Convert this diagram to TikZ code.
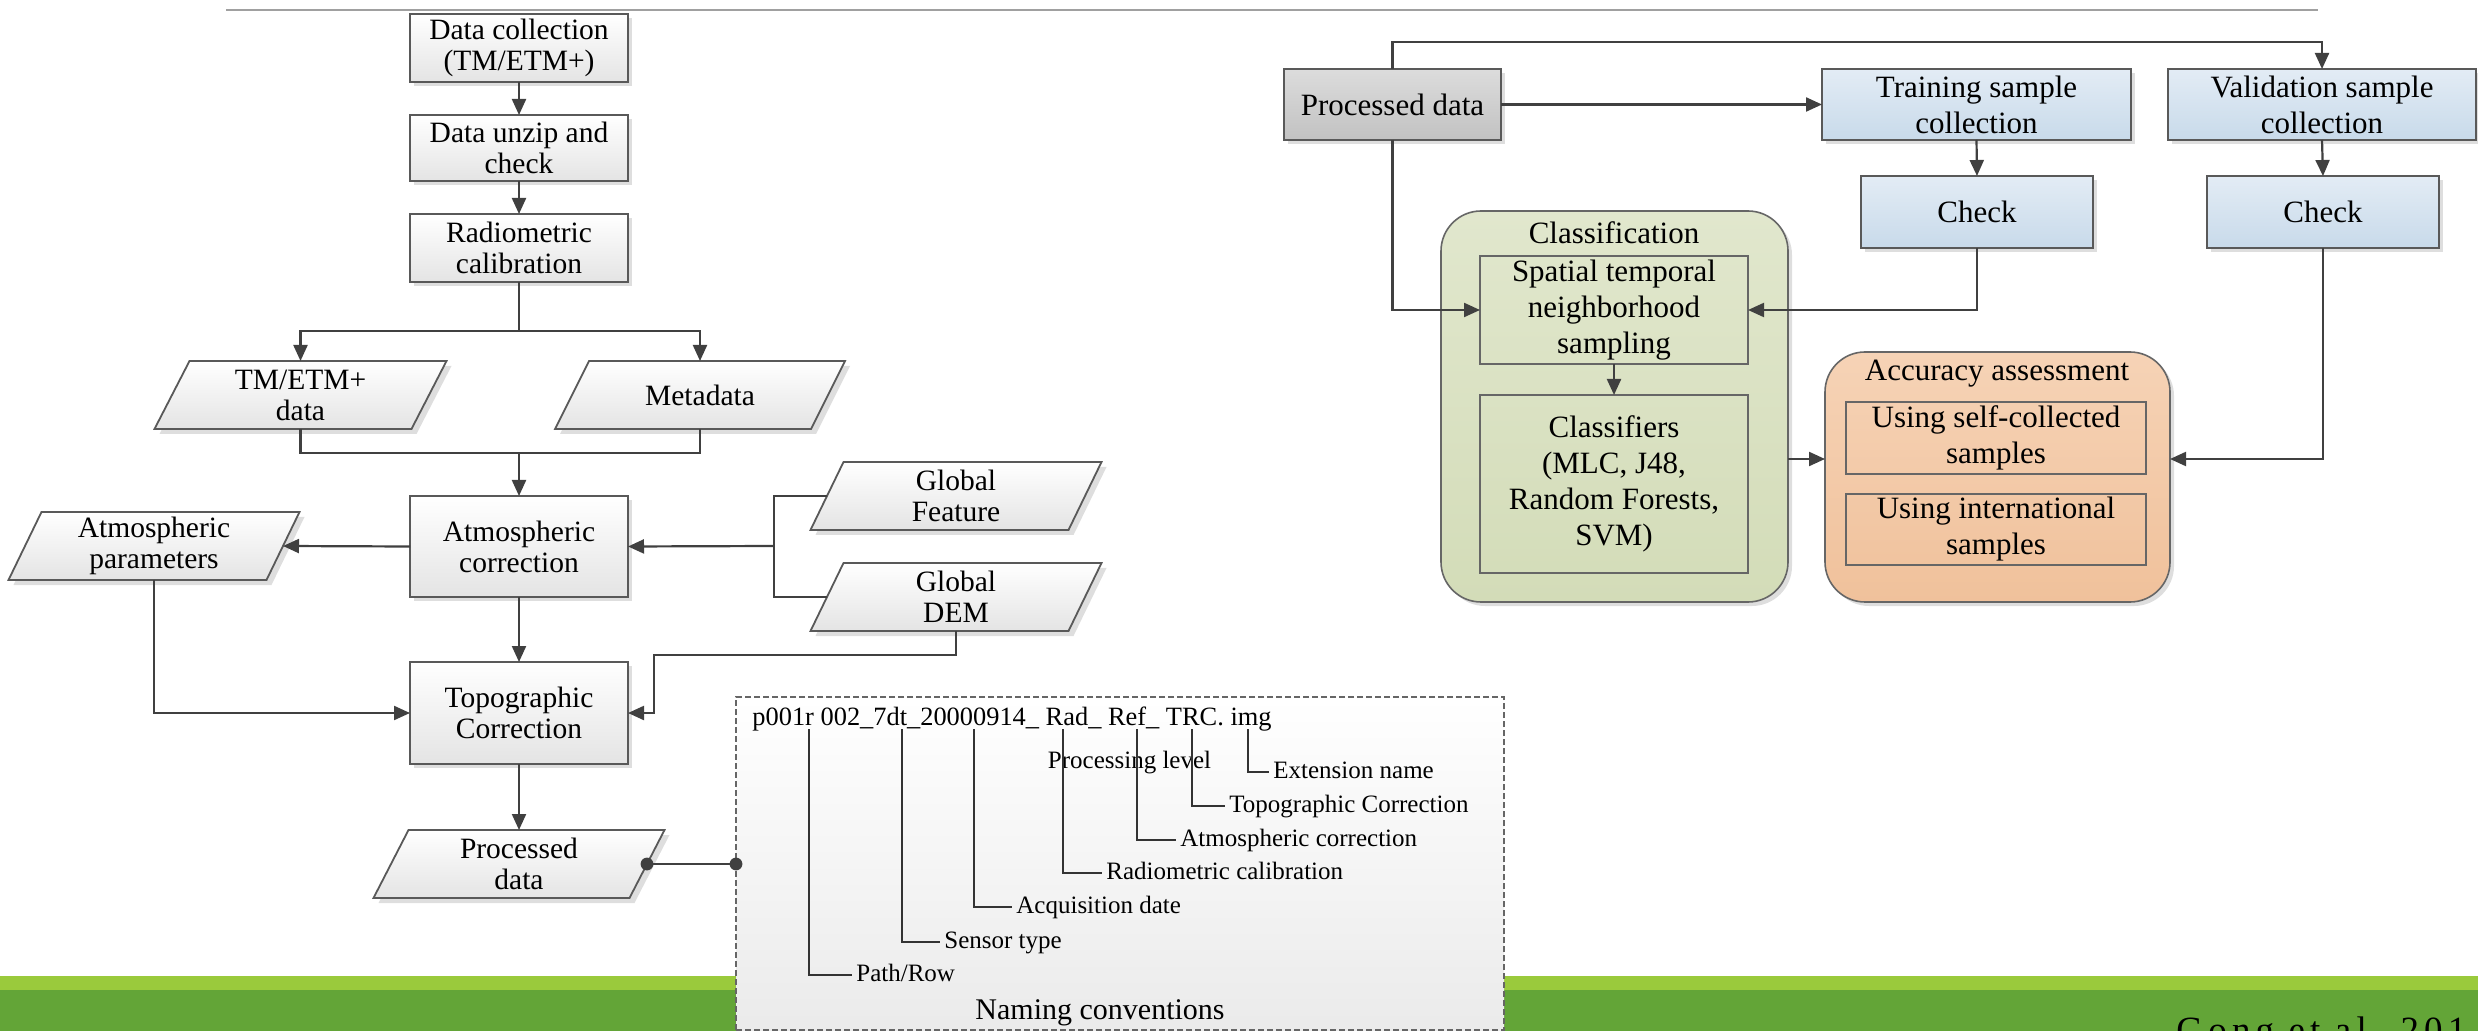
\documentclass[tikz,border=0pt]{standalone}
\usepackage{fontspec}
\setmainfont{Liberation Serif}
\usetikzlibrary{arrows.meta,shadows}

\definecolor{cline}{HTML}{404040}
\definecolor{bord}{HTML}{595959}
\definecolor{lgray}{HTML}{E4E4E4}
\definecolor{pgtop}{HTML}{DCDCDC}
\definecolor{pgbot}{HTML}{C2C2C2}
\definecolor{bltop}{HTML}{E3ECF5}
\definecolor{blbot}{HTML}{C8DAEA}
\definecolor{grtop}{HTML}{E1E7CD}
\definecolor{grbot}{HTML}{D3DCB8}
\definecolor{ortop}{HTML}{F6D3B6}
\definecolor{orbot}{HTML}{F0C19B}
\definecolor{lgreen}{HTML}{9ACA3C}
\definecolor{dgreen}{HTML}{63A537}
\definecolor{topline}{HTML}{A0A0A0}

\newcommand\lftf{\fontsize{14.75pt}{15.5pt}\selectfont}
\newcommand\rgtf{\fontsize{15.5pt}{18pt}\selectfont}
\newcommand\smlf{\fontsize{12.5pt}{14pt}\selectfont}
\newcommand\fnmf{\fontsize{13.2pt}{15pt}\selectfont}
\newcommand\ncf{\fontsize{15pt}{17pt}\selectfont}
\newcommand\gongf{\fontsize{18.5pt}{20pt}\selectfont\addfontfeature{LetterSpace=14}}

% name, cx, cy, w, s, text   (height fixed at 68 px)
\newcommand\paragram[6]{%
  \fill[black!13] ({#2-#4/2-#5/2+5},{#3+34+5}) -- ({#2+#4/2-#5/2+5},{#3+34+5})
     -- ({#2+#4/2+#5/2+5},{#3-34+5}) -- ({#2-#4/2+#5/2+5},{#3-34+5}) -- cycle;
  \path[parafill] ({#2-#4/2-#5/2},{#3+34}) -- ({#2+#4/2-#5/2},{#3+34})
     -- ({#2+#4/2+#5/2},{#3-34}) -- ({#2-#4/2+#5/2},{#3-34}) -- cycle;
  \node[paratext, minimum width={#4*0.5pt}, minimum height=34pt] (#1) at (#2,#3) {#6};
}

\begin{document}
\begin{tikzpicture}[x=0.5pt,y=-0.5pt,
  conn/.style={draw=cline, line width=1.1pt},
  arr/.style={conn, -{Triangle[length=8pt,width=7pt]}},
  lead/.style={draw=black!80, line width=0.6pt},
  shad/.style={drop shadow={shadow xshift=2pt, shadow yshift=-2pt, fill=black!13, opacity=1}},
  lbox/.style={draw=bord, line width=0.9pt, top color=white, bottom color=lgray,
    minimum width=109pt, inner sep=0pt, outer sep=0pt, align=center, font=\lftf, shad},
  parafill/.style={draw=bord, line width=0.9pt, top color=white, bottom color=lgray},
  paratext/.style={inner sep=0pt, outer sep=0pt, align=center, font=\lftf},
  gbox/.style={draw=bord, line width=0.9pt, top color=pgtop, bottom color=pgbot,
    inner sep=0pt, outer sep=0pt, align=center, font=\rgtf, shad},
  bbox/.style={draw=bord, line width=0.9pt, top color=bltop, bottom color=blbot,
    inner sep=0pt, outer sep=0pt, align=center, font=\rgtf, shad},
  grcont/.style={draw=black!60, line width=0.8pt, rounded corners=20pt, top color=grtop,
    bottom color=grbot, inner sep=0pt, outer sep=0pt, shad},
  orcont/.style={draw=black!60, line width=0.8pt, rounded corners=20pt, top color=ortop,
    bottom color=orbot, inner sep=0pt, outer sep=0pt, shad},
  inbox/.style={draw=black!60, line width=0.7pt, inner sep=0pt, outer sep=0pt,
    align=center, font=\rgtf},
  nbox/.style={draw=black!60, dashed, dash pattern=on 3pt off 1.5pt, line width=0.6pt,
    top color=white, bottom color=black!8, inner sep=0pt, outer sep=0pt},
  lab/.style={anchor=west, font=\smlf, inner sep=2pt, text height=9pt, text depth=2.5pt}
]
\useasboundingbox (0,0) rectangle (2478,1031);
\clip (0,0) rectangle (2478,1031);

% footer band
\fill[lgreen] (0,976) rectangle (2478,990);
\fill[dgreen] (0,990) rectangle (2478,1031);
\node[anchor=base west, font=\gongf, text=black, inner sep=0pt] (gong) at (2176,1042) {Gong et al. 201};

% top rule
\draw[topline, line width=1.2pt] (226,10) -- (2318,10);

% ---------------- left column ----------------
\node[lbox, minimum height=34pt] (dc) at (519,48) {Data collection\\(TM/ETM+)};
\node[lbox, minimum height=33pt] (du) at (519,148) {Data unzip and\\check};
\node[lbox, minimum height=34pt] (rc) at (519,248) {Radiometric\\calibration};

\paragram{tm}{300.5}{395}{257}{35}{TM/ETM+\\data}
\paragram{md}{700}{395}{256}{34}{Metadata}

\node[lbox, minimum height=50.5pt] (ac) at (519,546.5) {Atmospheric\\correction};
\paragram{gf}{956}{496}{258}{33}{Global\\Feature}
\paragram{gd}{956}{597}{258}{33}{Global\\DEM}
\paragram{ap}{154}{546}{258}{33}{Atmospheric\\parameters}

\node[lbox, minimum height=51pt] (tc) at (519,713) {Topographic\\Correction};
\paragram{pdl}{519}{864}{256}{35}{Processed\\data}

\draw[arr] (dc.south) -- (du.north);
\draw[arr] (du.south) -- (rc.north);
\coordinate (b1) at (519,331);
\draw[conn] (rc.south) -- (b1);
\draw[arr] (b1) -| (tm.north);
\draw[arr] (b1) -| (md.north);
\coordinate (b2) at (519,453);
\draw[conn] (tm.south) |- (b2);
\draw[conn] (md.south) |- (b2);
\draw[arr] (b2) -- (ac.north);
\coordinate (b3) at (774,546);
\draw[conn] (gf.west) -| (b3);
\draw[conn] (gd.west) -| (b3);
\draw[arr] (b3) -- (ac.east);
\draw[arr] (ac.west) -- (ap.east);
\draw[arr] (ac.south) -- (tc.north);
\draw[arr] (ap.south) |- (tc.west);
\coordinate (b4) at (654,655);
\draw[arr] (gd.south) |- (b4) |- (tc.east);
\draw[arr] (tc.south) -- (pdl.north);

% ---------------- naming conventions ----------------
\node[nbox, minimum width=384pt, minimum height=166.5pt] (nc) at (1120,863.5) {};
\draw[conn] (pdl.east) -- (nc.west |- pdl.east);
\fill[cline] (pdl.east) circle (3.2pt);
\fill[cline] (nc.west |- pdl.east) circle (3.2pt);

\node[anchor=base west, font=\fnmf, inner sep=0pt] (fn) at (752,725)
  {p001r 002\_7dt\_20000914\_ Rad\_ Ref\_ TRC. img};
\node[anchor=base, font=\smlf, inner sep=0pt] (pl) at (1129.5,768) {Processing level};
\node[lab] (l1) at (1269,772) {Extension name};
\node[lab] (l2) at (1225,806) {Topographic Correction};
\node[lab] (l3) at (1176,840) {Atmospheric correction};
\node[lab] (l4) at (1102,873) {Radiometric calibration};
\node[lab] (l5) at (1012,907) {Acquisition date};
\node[lab] (l6) at (940,942) {Sensor type};
\node[lab] (l7) at (852,975) {Path/Row};
\coordinate (t1) at (1248,729);
\coordinate (t2) at (1192,729);
\coordinate (t3) at (1137,729);
\coordinate (t4) at (1063,729);
\coordinate (t5) at (974,729);
\coordinate (t6) at (902,729);
\coordinate (t7) at (809,729);
\draw[lead] (t1) |- (l1.west);
\draw[lead] (t2) |- (l2.west);
\draw[lead] (t3) |- (l3.west);
\draw[lead] (t4) |- (l4.west);
\draw[lead] (t5) |- (l5.west);
\draw[lead] (t6) |- (l6.west);
\draw[lead] (t7) |- (l7.west);
\node[anchor=base, font=\ncf, inner sep=0pt] (nct) at (1100,1019) {Naming conventions};

% ---------------- right part ----------------
\node[gbox, minimum width=108.5pt, minimum height=35.5pt] (pdr) at (1392.5,104.5) {Processed data};
\node[bbox, minimum width=154.5pt, minimum height=35.5pt] (tsc) at (1976.5,104.5) {Training sample\\collection};
\node[bbox, minimum width=154pt, minimum height=35.5pt] (vsc) at (2322,104.5) {Validation sample\\collection};
\node[bbox, minimum width=116pt, minimum height=36pt] (ck1) at (1977,212) {Check};
\node[bbox, minimum width=116pt, minimum height=36pt] (ck2) at (2323,212) {Check};

\node[grcont, minimum width=173.5pt, minimum height=195.5pt] (cls) at (1614.5,406.5) {};
\node[font=\rgtf, inner sep=0pt] (clsl) at (1614,233) {Classification};
\node[inbox, minimum width=134pt, minimum height=54pt] (stn) at (1614,310) {Spatial temporal\\neighborhood\\sampling};
\node[inbox, minimum width=134pt, minimum height=89pt] (clf) at (1614,484) {Classifiers\\(MLC, J48,\\Random Forests,\\SVM)};

\node[orcont, minimum width=172.5pt, minimum height=125pt] (acc) at (1997.5,477) {};
\node[font=\rgtf, inner sep=0pt] (accl) at (1997,374) {Accuracy assessment};
\node[inbox, minimum width=150pt, minimum height=36pt] (usc) at (1996,438) {Using self-collected\\samples};
\node[inbox, minimum width=150pt, minimum height=35.5pt] (uis) at (1996,529.5) {Using international\\samples};

\draw[arr] (pdr.north) -- ++(0,-27) -| (vsc.north);
\draw[arr] (pdr.east) -- (tsc.west);
\draw[arr] (tsc.south) -- (ck1.north);
\draw[arr] (vsc.south) -- (ck2.north);
\draw[arr] (pdr.south) |- (stn.west);
\draw[arr] (ck1.south) |- (stn.east);
\draw[arr] (stn.south) -- (clf.north);
\path (cls.east) ++(0,52.5) coordinate (ca);
\draw[arr] (ca) -- (ca -| acc.west);
\draw[arr] (ck2.south) |- (ca -| acc.east);
\end{tikzpicture}
\end{document}
